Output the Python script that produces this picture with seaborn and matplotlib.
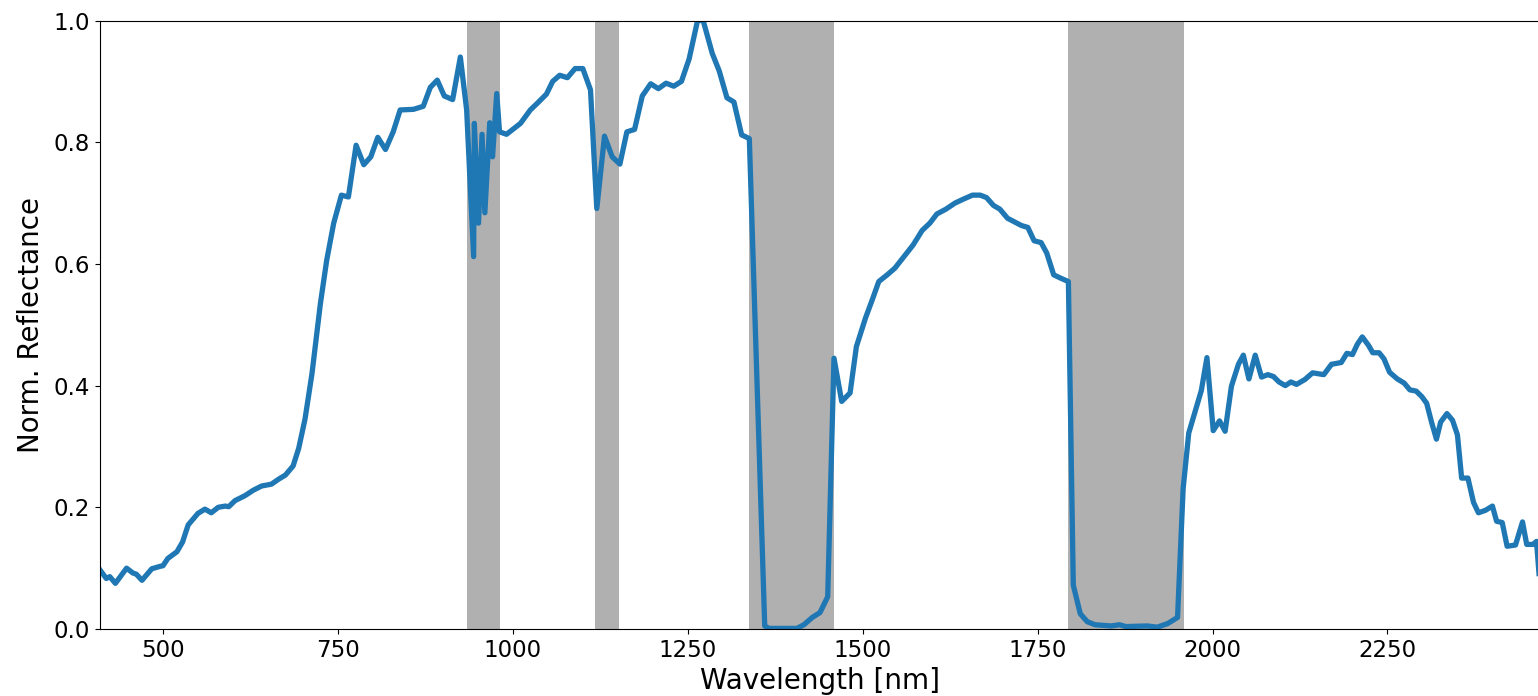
import matplotlib
matplotlib.use("Agg")
import matplotlib.pyplot as plt
import seaborn as sns
import pandas as pd

# =====================================
# Data
# =====================================

wavelength = [
    410, 419, 424, 432, 448, 457, 462, 470, 484, 496, 500, 507, 520, 528, 536,
    550, 560, 569, 579, 589, 594, 603, 617, 629, 641, 655, 665, 675, 686, 694,
    703, 713, 725, 734, 744, 755, 765, 776, 787, 797, 807, 818, 829, 839, 858,
    872, 882, 892, 902, 914, 925, 934, 944, 945, 951, 956, 960, 967, 971, 977,
    981, 991, 1011, 1025, 1035, 1048, 1057, 1067, 1078, 1089, 1100, 1111, 1120,
    1131, 1142, 1153, 1163, 1174, 1185, 1197, 1208, 1219, 1230, 1241, 1252,
    1264, 1272, 1285, 1295, 1306, 1316, 1327, 1338, 1360, 1366, 1406, 1416, 1428,
    1439, 1450, 1459, 1470, 1482, 1491, 1504, 1514, 1523, 1535, 1546, 1559,
    1572, 1585, 1596, 1606, 1619, 1632, 1645, 1657, 1668, 1677, 1687, 1696,
    1707, 1717, 1727, 1736, 1745, 1755, 1763, 1773, 1784, 1794, 1801, 1811,
    1821, 1832, 1855, 1867, 1876, 1907, 1921, 1936, 1950, 1958, 1966, 1974,
    1984, 1992, 2001, 2010, 2018, 2027, 2037, 2044, 2052, 2061, 2070, 2079,
    2087, 2095, 2104, 2112, 2120, 2132, 2143, 2159, 2170, 2184, 2192, 2200,
    2207, 2214, 2223, 2229, 2238, 2245, 2253, 2264, 2274, 2282, 2291, 2299,
    2306, 2313, 2320, 2326, 2335, 2343, 2350, 2356, 2365, 2373, 2380, 2390,
    2400, 2406, 2414, 2421, 2433, 2443, 2449, 2458, 2463, 2468,
]

reflectance = [
    0.097, 0.083, 0.086, 0.075, 0.100, 0.092, 0.090, 0.080, 0.099, 0.103, 0.104,
    0.116, 0.127, 0.143, 0.171, 0.190, 0.197, 0.191, 0.200, 0.202, 0.201, 0.211,
    0.219, 0.228, 0.235, 0.238, 0.246, 0.253, 0.268, 0.297, 0.345, 0.420, 0.535,
    0.606, 0.667, 0.713, 0.710, 0.795, 0.763, 0.776, 0.808, 0.788, 0.817, 0.853,
    0.854, 0.859, 0.890, 0.902, 0.876, 0.870, 0.940, 0.853, 0.612, 0.831, 0.667,
    0.813, 0.684, 0.832, 0.776, 0.880, 0.817, 0.813, 0.831, 0.853, 0.864, 0.879,
    0.900, 0.910, 0.906, 0.921, 0.921, 0.886, 0.691, 0.810, 0.776, 0.764, 0.817,
    0.821, 0.876, 0.896, 0.888, 0.897, 0.892, 0.900, 0.937, 1.000, 1.000, 0.946,
    0.917, 0.873, 0.866, 0.812, 0.806, 0.005, 0.001, 0.001, 0.007, 0.019, 0.027,
    0.053, 0.445, 0.374, 0.388, 0.464, 0.511, 0.542, 0.571, 0.582, 0.593, 0.612,
    0.631, 0.655, 0.667, 0.682, 0.690, 0.700, 0.707, 0.713, 0.713, 0.709, 0.696,
    0.690, 0.675, 0.669, 0.663, 0.660, 0.638, 0.635, 0.618, 0.582, 0.576, 0.571,
    0.072, 0.025, 0.012, 0.007, 0.005, 0.007, 0.004, 0.005, 0.003, 0.009, 0.019,
    0.231, 0.322, 0.353, 0.392, 0.446, 0.326, 0.342, 0.325, 0.399, 0.435, 0.450,
    0.411, 0.450, 0.414, 0.418, 0.415, 0.406, 0.400, 0.406, 0.402, 0.410, 0.421,
    0.418, 0.435, 0.438, 0.453, 0.451, 0.468, 0.480, 0.466, 0.454, 0.454, 0.444,
    0.422, 0.411, 0.404, 0.393, 0.391, 0.382, 0.371, 0.340, 0.312, 0.340, 0.354,
    0.343, 0.319, 0.248, 0.248, 0.208, 0.191, 0.195, 0.202, 0.177, 0.175, 0.136,
    0.138, 0.176, 0.139, 0.139, 0.144, 0.070,
]

# water absorption bands (masked regions)
band_start = [935, 1118, 1338, 1794]
band_end = [981, 1152, 1459, 1959]

df = pd.DataFrame({"Wavelength": wavelength, "Reflectance": reflectance})

# =====================================
# Plot
# =====================================

fig = plt.figure(figsize=(15.38, 6.96), dpi=100)
ax = fig.add_axes([100 / 1538, 67 / 696, 1440 / 1538, 608.5 / 696])

for s, e in zip(band_start, band_end):
    ax.axvspan(s, e, color="#b0b0b0", lw=0, zorder=1)

sns.lineplot(
    data=df,
    x="Wavelength",
    y="Reflectance",
    color="#1f77b4",
    linewidth=3.8,
    ax=ax,
    zorder=2
)

ax.set_xlim(410, 2468)
ax.set_ylim(0, 1)
ax.set_xticks([500, 750, 1000, 1250, 1500, 1750, 2000, 2250])
ax.set_yticks([0.0, 0.2, 0.4, 0.6, 0.8, 1.0])
ax.tick_params(labelsize=16.5)

ax.set_xlabel("Wavelength [nm]", fontsize=20, labelpad=4)
ax.set_ylabel("Norm. Reflectance", fontsize=20, labelpad=6)

fig.savefig("out.png", dpi=100)
